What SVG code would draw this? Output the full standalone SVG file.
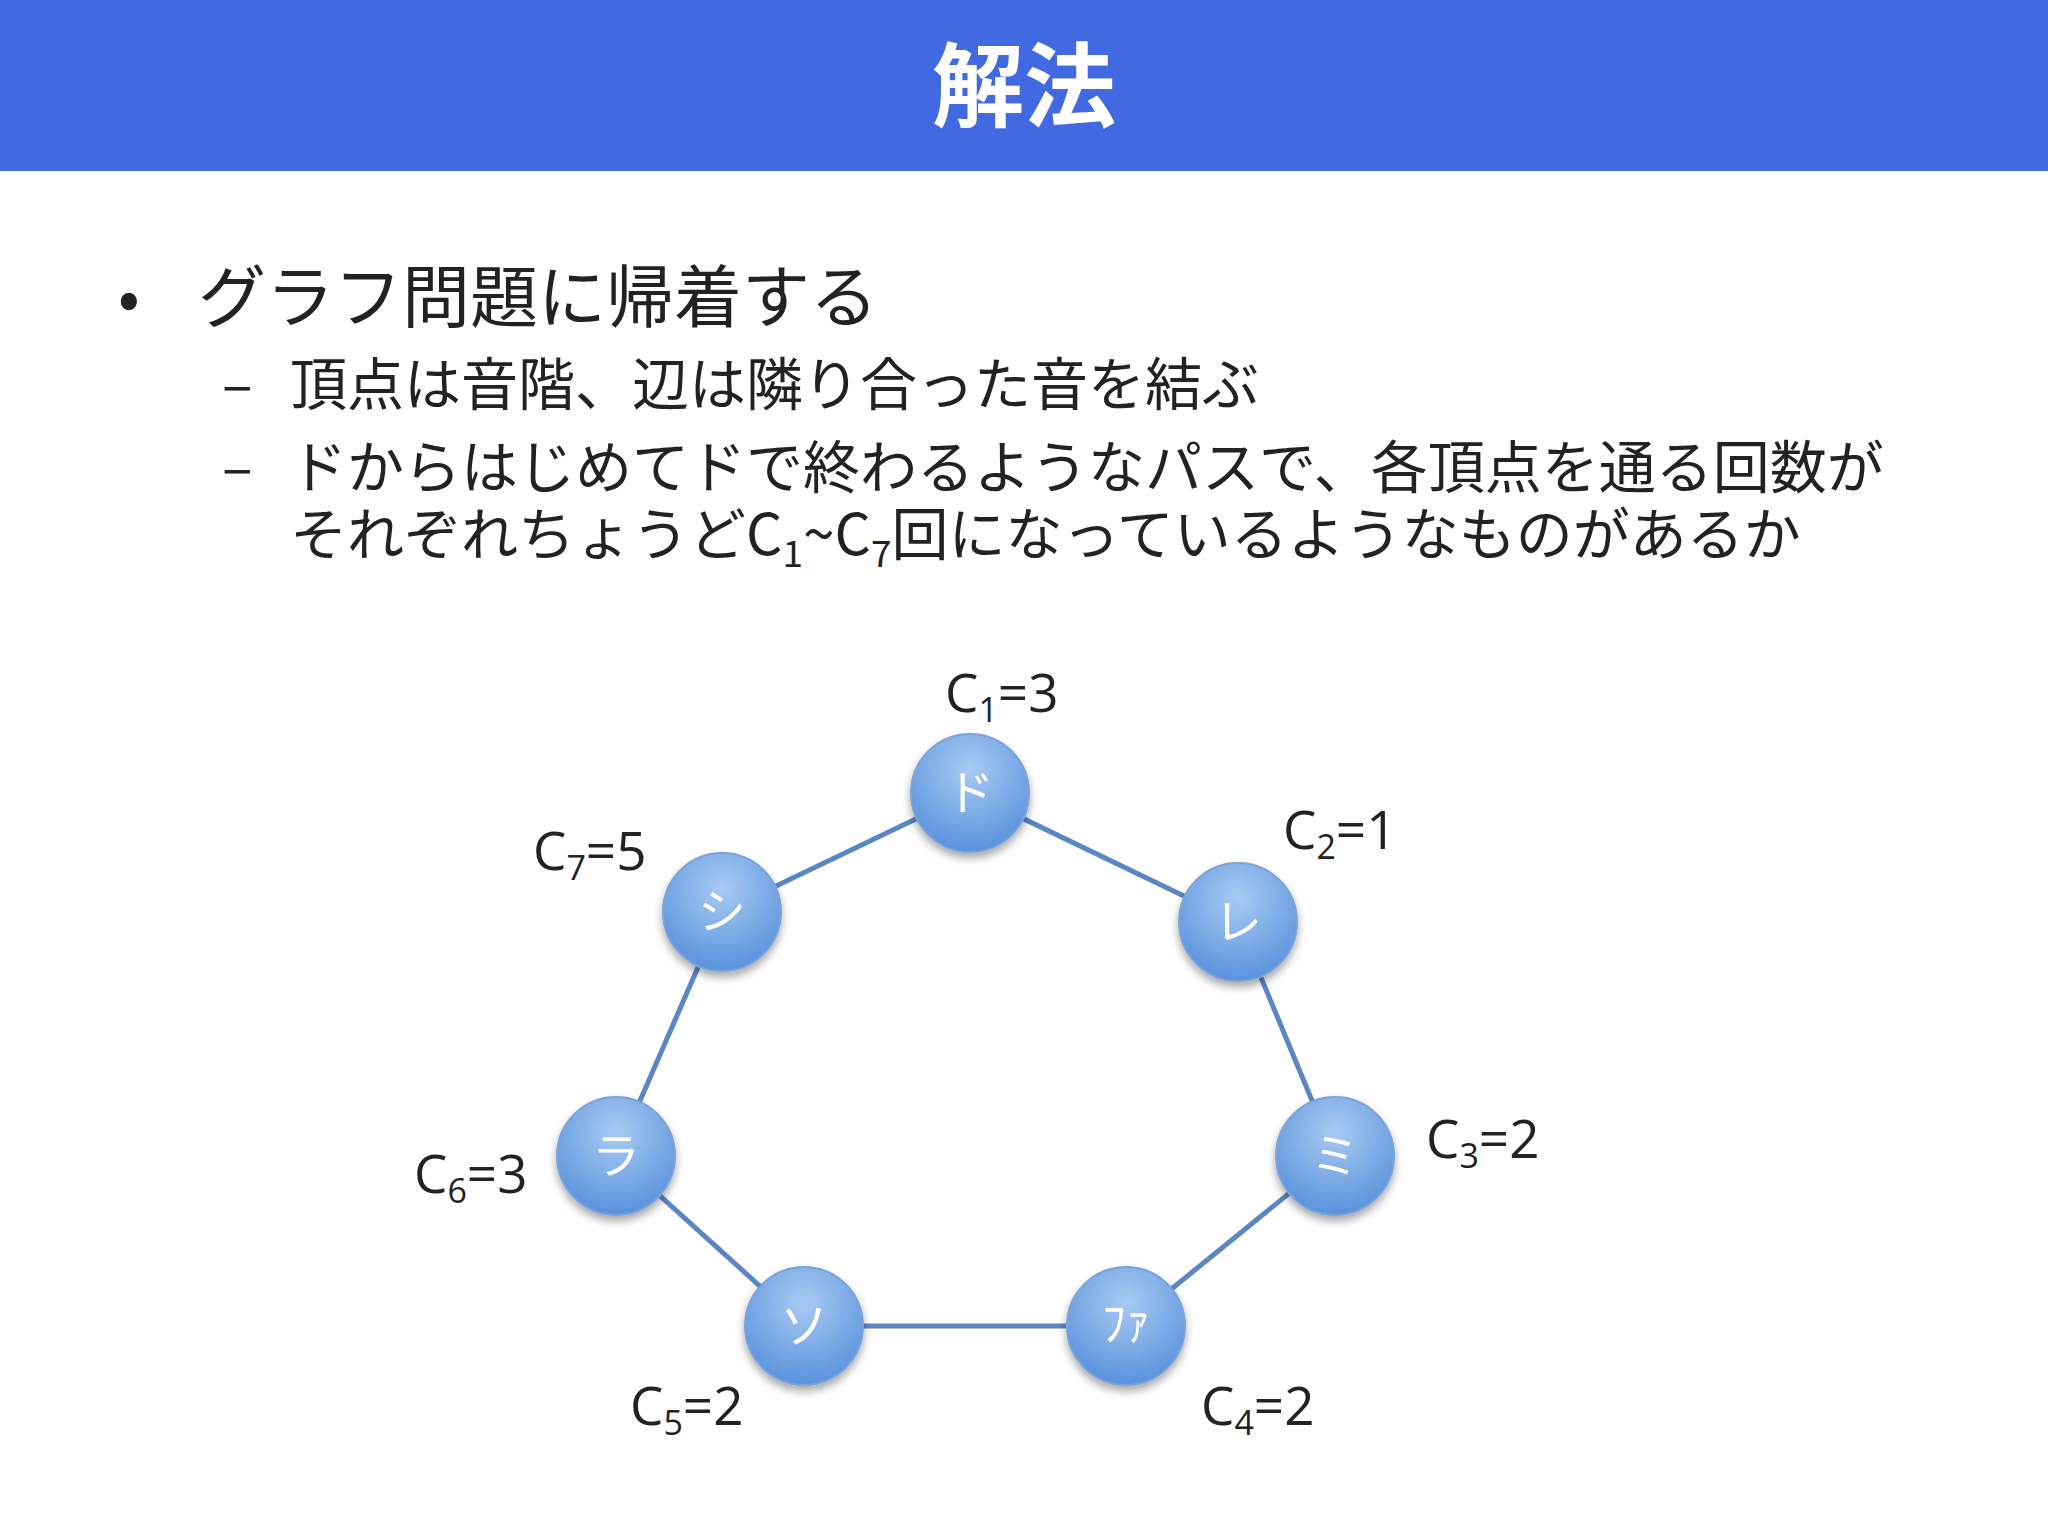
<svg xmlns="http://www.w3.org/2000/svg" width="2048" height="1536" viewBox="0 0 2048 1536">
<style>
.t{font-family:"Noto Sans CJK JP","Noto Sans",sans-serif;fill:#222}
.h{font-family:"Noto Sans CJK JP",sans-serif;fill:#fff;font-weight:bold}
.lab{font-family:"Open Sans","Noto Sans",sans-serif;fill:#222;font-size:53px}
.n{font-family:"Noto Sans CJK JP",sans-serif;fill:#fff;font-size:48px;text-anchor:middle}
.e{stroke:#5b86c4;stroke-width:5;fill:none}
</style>
<defs>
<radialGradient id="g" cx="0.5" cy="0.3" r="0.7">
<stop offset="0" stop-color="#a8cbf3"/><stop offset="1" stop-color="#5a92dc"/>
</radialGradient>
<filter id="s" x="-30%" y="-30%" width="160%" height="170%"><feDropShadow dx="0" dy="5" stdDeviation="4" flood-opacity="0.35"/></filter>
</defs>
<rect width="2048" height="1536" fill="#fff"/>
<rect width="2048" height="171" fill="#4169e1"/>
<text class="h" x="1024" y="120" font-size="92" text-anchor="middle">解法</text>
<text class="t" x="118" y="320" font-size="64">•</text>
<text class="t" x="198" y="322" font-size="68">グラフ問題に帰着する</text>
<text class="t" x="222" y="405" font-size="57">–</text>
<text class="t" x="290" y="405" font-size="57">頂点は音階、辺は隣り合った音を結ぶ</text>
<text class="t" x="222" y="488" font-size="57">–</text>
<text class="t" x="290" y="488" font-size="57">ドからはじめてドで終わるようなパスで、各頂点を通る回数が</text>
<text class="t" x="290" y="555" font-size="57">それぞれちょうどC<tspan font-size="37" dy="12">1</tspan><tspan dy="-12">~C</tspan><tspan font-size="37" dy="12">7</tspan><tspan dy="-12">回になっているようなものがあるか</tspan></text>
<g id="edges">
<polyline class="e" points="970,793 1238,922 1335,1156 1126,1326 804,1326 616,1156 722,912 970,793"/>
</g>
<g id="do" filter="url(#s)"><circle cx="970" cy="793" r="59" fill="url(#g)" stroke="#7ba3d8" stroke-width="2"/><text class="n" x="970" y="810">ド</text></g>
<g id="re" filter="url(#s)"><circle cx="1238" cy="922" r="59" fill="url(#g)" stroke="#7ba3d8" stroke-width="2"/><text class="n" x="1238" y="939">レ</text></g>
<g id="mi" filter="url(#s)"><circle cx="1335" cy="1156" r="59" fill="url(#g)" stroke="#7ba3d8" stroke-width="2"/><text class="n" x="1335" y="1173">ミ</text></g>
<g id="fa" filter="url(#s)"><circle cx="1126" cy="1326" r="59" fill="url(#g)" stroke="#7ba3d8" stroke-width="2"/><text class="n" x="1126" y="1340" font-size="36">ﾌｧ</text></g>
<g id="so" filter="url(#s)"><circle cx="804" cy="1326" r="59" fill="url(#g)" stroke="#7ba3d8" stroke-width="2"/><text class="n" x="804" y="1343">ソ</text></g>
<g id="ra" filter="url(#s)"><circle cx="616" cy="1156" r="59" fill="url(#g)" stroke="#7ba3d8" stroke-width="2"/><text class="n" x="616" y="1173">ラ</text></g>
<g id="si" filter="url(#s)"><circle cx="722" cy="912" r="59" fill="url(#g)" stroke="#7ba3d8" stroke-width="2"/><text class="n" x="722" y="929">シ</text></g>
<g id="labels">
<text class="lab" x="945" y="712">C<tspan font-size="34" dy="10">1</tspan><tspan dy="-10">=3</tspan></text>
<text class="lab" x="1283" y="849">C<tspan font-size="34" dy="10">2</tspan><tspan dy="-10">=1</tspan></text>
<text class="lab" x="1426" y="1158">C<tspan font-size="34" dy="10">3</tspan><tspan dy="-10">=2</tspan></text>
<text class="lab" x="1201" y="1425">C<tspan font-size="34" dy="10">4</tspan><tspan dy="-10">=2</tspan></text>
<text class="lab" x="630" y="1425">C<tspan font-size="34" dy="10">5</tspan><tspan dy="-10">=2</tspan></text>
<text class="lab" x="414" y="1193">C<tspan font-size="34" dy="10">6</tspan><tspan dy="-10">=3</tspan></text>
<text class="lab" x="533" y="870">C<tspan font-size="34" dy="10">7</tspan><tspan dy="-10">=5</tspan></text>
</g>
</svg>
